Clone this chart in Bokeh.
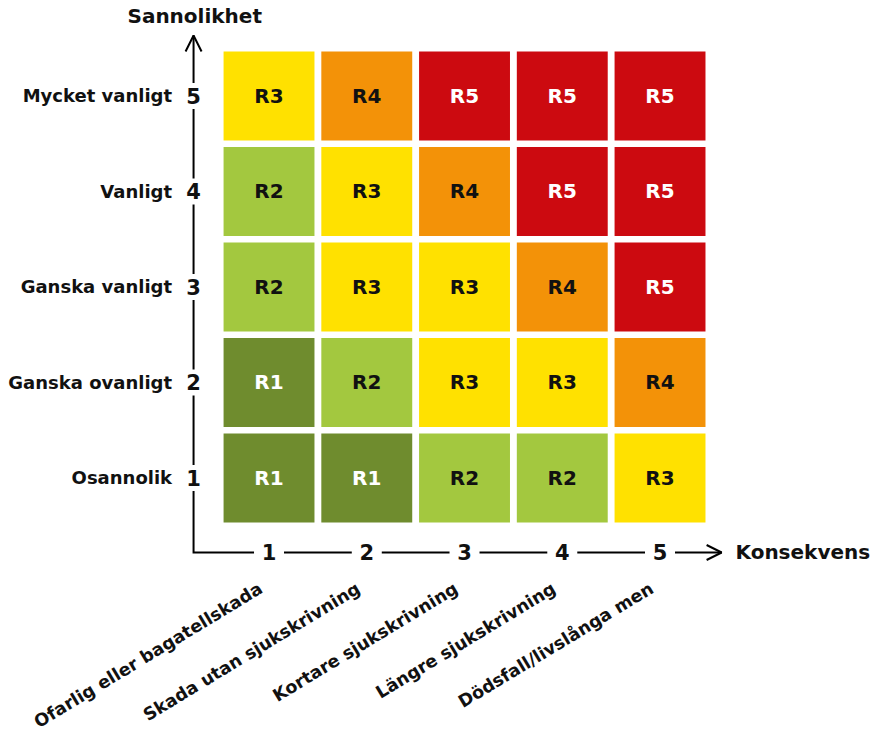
from bokeh.plotting import figure
from bokeh.models import ColumnDataSource, Range1d, Arrow, OpenHead
from bokeh.core.properties import value
from bokeh.embed import file_html
from bokeh.resources import INLINE

# ---- data ----
consequence_ticks = [1, 2, 3, 4, 5]
consequence_labels = ["Ofarlig eller bagatellskada", "Skada utan sjukskrivning",
                      "Kortare sjukskrivning", "Längre sjukskrivning",
                      "Dödsfall/livslånga men"]
likelihood_ticks = [1, 2, 3, 4, 5]
likelihood_labels = ["Osannolik", "Ganska ovanligt", "Ganska vanligt",
                     "Vanligt", "Mycket vanligt"]
# risk level per row (likelihood 1..5), columns consequence 1..5
risk_row1 = [1, 1, 2, 2, 3]
risk_row2 = [1, 2, 3, 3, 4]
risk_row3 = [2, 3, 3, 4, 5]
risk_row4 = [2, 3, 4, 5, 5]
risk_row5 = [3, 4, 5, 5, 5]
x_title = "Konsekvens"
y_title = "Sannolikhet"

# ---- styles ----
level_colors = {1: "#6F8C2E", 2: "#A3C83F", 3: "#FFE100", 4: "#F39208", 5: "#CC0A10"}
level_text = {1: "white", 2: "#111111", 3: "#111111", 4: "#111111", 5: "white"}
FONT = value("DejaVu Sans")

rows = [risk_row1, risk_row2, risk_row3, risk_row4, risk_row5]
xs, ys, cols, txt, tcol = [], [], [], [], []
for yi, row in zip(likelihood_ticks, rows):
    for xi, lvl in zip(consequence_ticks, row):
        xs.append(xi)
        ys.append(yi)
        cols.append(level_colors[lvl])
        txt.append("R%d" % lvl)
        tcol.append(level_text[lvl])
cells = ColumnDataSource(dict(x=xs, y=ys, color=cols, text=txt, tcolor=tcol))

W, H = 878, 732
p = figure(width=W, height=H, output_backend="svg", toolbar_location=None,
           x_axis_type=None, y_axis_type=None,
           x_range=Range1d(-1.747, 7.235), y_range=Range1d(-1.665, 6.0),
           min_border=0, outline_line_color=None)
p.grid.visible = False
p.background_fill_color = "white"
p.border_fill_color = "white"

p.rect(x="x", y="y", width=0.93, height=0.932, source=cells,
       fill_color="color", line_color=None)
p.text(x="x", y="y", text="text", source=cells, text_color="tcolor",
       text_font=FONT, text_font_style="bold", text_font_size="20px",
       text_align="center", text_baseline="middle")

AX = 0.228
AY = 0.22
X_END = 5.63
Y_END = 5.634

# axis lines (L shape)
p.line(x=[AX, AX, X_END], y=[Y_END, AY, AY], line_color="black",
       line_width=2, line_join="miter")
# arrow heads only (bodies are the line above)
p.add_layout(Arrow(end=OpenHead(size=15, line_width=2, line_color="black"),
                   x_start=AX, y_start=AY, x_end=X_END, y_end=AY,
                   line_alpha=0))
p.add_layout(Arrow(end=OpenHead(size=16, line_width=2, line_color="black"),
                   x_start=AX, y_start=AY, x_end=AX, y_end=Y_END,
                   line_alpha=0))

# white gaps in the axis lines behind the tick numbers
p.rect(x=consequence_ticks, y=[AY] * 5, width=30, height=12,
       width_units="screen", height_units="screen",
       fill_color="white", line_color=None)
p.rect(x=[AX] * 5, y=likelihood_ticks, width=12, height=26,
       width_units="screen", height_units="screen",
       fill_color="white", line_color=None)

# tick numbers on the axis lines
p.text(x=consequence_ticks, y=[AY] * 5, text=[str(t) for t in consequence_ticks],
       text_font=FONT, text_font_style="bold", text_font_size="21px",
       text_color="#111111", text_align="center", text_baseline="middle")
p.text(x=[AX] * 5, y=likelihood_ticks, text=[str(t) for t in likelihood_ticks],
       text_font=FONT, text_font_style="bold", text_font_size="21px",
       text_color="#111111", text_align="center", text_baseline="middle")

# likelihood labels
p.text(x=[0.008] * 5, y=likelihood_ticks, text=likelihood_labels,
       text_font=FONT, text_font_style="bold", text_font_size="18px",
       text_color="#111111", text_align="right", text_baseline="middle")

# consequence labels (rotated)
p.text(x=[t - 0.085 for t in consequence_ticks], y=[-0.14] * 5,
       text=consequence_labels, angle=0.545,
       text_font=FONT, text_font_style="bold", text_font_size="17.5px",
       text_color="#111111", text_align="right", text_baseline="middle")

# axis titles
p.text(x=[5.772], y=[AY], text=[x_title], text_font=FONT,
       text_font_style="bold", text_font_size="20px", text_color="#111111",
       text_align="left", text_baseline="middle")
p.text(x=[0.24], y=[5.838], text=[y_title], text_font=FONT,
       text_font_style="bold", text_font_size="20px", text_color="#111111",
       text_align="center", text_baseline="middle")

open("out.html", "w").write(file_html(p, INLINE))
